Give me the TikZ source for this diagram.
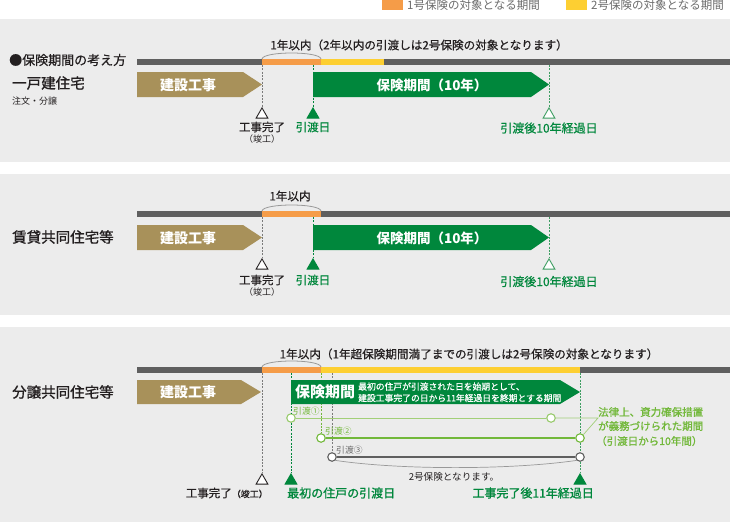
\documentclass[tikz,border=0pt]{standalone}
\usepackage{fontspec}
\setmainfont{Noto Sans CJK JP}
\newfontfamily\jpmed[FakeBold=1.2]{Noto Sans CJK JP}
\newfontfamily\jpsemi[FakeBold=0.6]{Noto Sans CJK JP}
\usetikzlibrary{shapes.geometric}
\newcommand\fsz[1]{\fontsize{#1}{#1}\selectfont}
\definecolor{panel}{HTML}{ECECEC}
\definecolor{barc}{HTML}{5F5F5F}
\definecolor{orng}{HTML}{F59C48}
\definecolor{yel}{HTML}{FDCF32}
\definecolor{tanc}{HTML}{A8915A}
\definecolor{grn}{HTML}{00873C}
\definecolor{dgrn}{HTML}{3E9E62}
\definecolor{lgrn}{HTML}{72B83A}
\definecolor{llgrn}{HTML}{A2CF78}
\definecolor{txt}{HTML}{231F20}
\definecolor{gtxt}{HTML}{6A6A6A}
\definecolor{dashg}{HTML}{7A7A7A}
\tikzset{
  lbl/.style={inner sep=0pt, text=txt},
  glbl/.style={inner sep=0pt, text=grn},
  arrowtext/.style={inner sep=0pt, text=white, font=\bfseries\fsz{14}},
  arcline/.style={draw=gray!80, line width=0.8pt},
  dashgray/.style={draw=dashg, line width=0.9pt, dash pattern=on 2pt off 1.3pt},
  dashgreen/.style={draw=grn, line width=0.9pt, dash pattern=on 2pt off 1.3pt},
  dashdgreen/.style={draw=dgrn, line width=0.9pt, dash pattern=on 2pt off 1.3pt},
  dashlgreen/.style={draw=lgrn, line width=0.9pt, dash pattern=on 2pt off 1.3pt},
  tri/.style={regular polygon, regular polygon sides=3, minimum size=13.6pt, inner sep=0pt, line width=0.9pt},
  triopen/.style={tri, draw=txt, fill=white},
  trifill/.style={tri, draw=grn, fill=grn},
  trigopen/.style={tri, draw=dgrn, fill=white},
  dot/.style={circle, minimum size=8.5pt, inner sep=0pt, fill=white, line width=1.1pt},
}
\begin{document}
\begin{tikzpicture}[x=1pt,y=-1pt]
\useasboundingbox (0,0) rectangle (730,522);
% panels
\fill[panel] (0,19) rectangle (730,162);
\fill[panel] (0,174) rectangle (730,315);
\fill[panel] (0,327) rectangle (730,522);
% legend
\fill[orng] (382,0) rectangle (403,10);
\node[inner sep=0pt, text=gtxt, font=\fsz{11.5}, anchor=west] (lg1) at (407,5) {1号保険の対象となる期間};
\fill[yel] (566,0) rectangle (587,10);
\node[inner sep=0pt, text=gtxt, font=\fsz{11.5}, anchor=west] (lg2) at (591,5) {2号保険の対象となる期間};

% ================= Panel 1
\node[lbl, font=\jpsemi\fsz{13}, anchor=west] (title) at (9,60) {●保険期間の考え方};
\node[lbl, font=\jpmed\fsz{14.5}, anchor=west] (h1) at (12,83) {一戸建住宅};
\node[lbl, font=\fsz{9}, anchor=west] (h1s) at (12,101) {注文・分譲};
\fill[barc] (137,59) rectangle (730,65);
\fill[orng] (262,59) rectangle (321,65);
\fill[yel] (321,59) rectangle (384,65);
\coordinate (p1a) at (262,59); \coordinate (p1b) at (321,59);
\draw[arcline] (p1a) .. controls (263,51) and (320,51) .. (p1b);
\node[lbl, font=\jpsemi\fsz{11.6}] (p1head) at (419,45) {1年以内（2年以内の引渡しは2号保険の対象となります）};
\node[triopen, anchor=corner 1] (p1t1) at (262,107) {};
\node[trifill, anchor=corner 1] (p1t2) at (313,107) {};
\node[trigopen, anchor=corner 1] (p1t3) at (549,107) {};
\coordinate (p1d1) at (262,65); \coordinate (p1d2) at (313,65); \coordinate (p1d3) at (549,65);
\draw[dashgray] (p1d1) -- (p1t1.corner 1);
\draw[dashgreen] (p1d2) -- (p1t2.corner 1);
\draw[dashdgreen] (p1d3) -- (p1t3.corner 1);
\fill[tanc] (137,72) -- (243,72) -- (262,84.5) -- (243,97) -- (137,97) -- cycle;
\node[arrowtext] (p1build) at (188,85) {建設工事};
\fill[grn] (313,72) -- (531,72) -- (549,84.5) -- (531,97) -- (313,97) -- cycle;
\node[arrowtext, font=\bfseries\fsz{13.5}] (p1ins) at (432,85) {保険期間（10年）};
\node[lbl, font=\jpsemi\fsz{11.5}] (p1l1) at (262,127) {工事完了};
\node[lbl, font=\fsz{9}] (p1l1s) at (262,139.5) {（竣工）};
\node[glbl, font=\jpsemi\fsz{11.5}] (p1l2) at (313,127) {引渡日};
\node[glbl, font=\jpsemi\fsz{12}] (p1l3) at (549,128) {引渡後10年経過日};

% ================= Panel 2
\node[lbl, font=\jpmed\fsz{14.5}, anchor=west] (h2) at (12,237) {賃貸共同住宅等};
\fill[barc] (137,211) rectangle (730,217);
\fill[orng] (262,211) rectangle (321,217);
\coordinate (p2a) at (262,211); \coordinate (p2b) at (321,211);
\draw[arcline] (p2a) .. controls (263,203) and (320,203) .. (p2b);
\node[lbl, font=\jpsemi\fsz{11.6}] (p2head) at (290,196) {1年以内};
\node[triopen, anchor=corner 1] (p2t1) at (262,258) {};
\node[trifill, anchor=corner 1] (p2t2) at (313,258) {};
\node[trigopen, anchor=corner 1] (p2t3) at (549,258) {};
\coordinate (p2d1) at (262,217); \coordinate (p2d2) at (313,217); \coordinate (p2d3) at (549,217);
\draw[dashgray] (p2d1) -- (p2t1.corner 1);
\draw[dashgreen] (p2d2) -- (p2t2.corner 1);
\draw[dashdgreen] (p2d3) -- (p2t3.corner 1);
\fill[tanc] (137,225) -- (243,225) -- (262,237.5) -- (243,250) -- (137,250) -- cycle;
\node[arrowtext] (p2build) at (188,238) {建設工事};
\fill[grn] (313,225) -- (531,225) -- (549,237.5) -- (531,250) -- (313,250) -- cycle;
\node[arrowtext, font=\bfseries\fsz{13.5}] (p2ins) at (432,238) {保険期間（10年）};
\node[lbl, font=\jpsemi\fsz{11.5}] (p2l1) at (262,280) {工事完了};
\node[lbl, font=\fsz{9}] (p2l1s) at (262,292.5) {（竣工）};
\node[glbl, font=\jpsemi\fsz{11.5}] (p2l2) at (313,280) {引渡日};
\node[glbl, font=\jpsemi\fsz{12}] (p2l3) at (549,281.5) {引渡後10年経過日};

% ================= Panel 3
\node[lbl, font=\jpmed\fsz{14.5}, anchor=west] (h3) at (12,392) {分譲共同住宅等};
\fill[barc] (137,367) rectangle (730,373);
\fill[orng] (262,367) rectangle (321,373);
\fill[yel] (321,367) rectangle (580,373);
\coordinate (p3a) at (262,367); \coordinate (p3b) at (321,367);
\draw[arcline] (p3a) .. controls (263,359) and (320,359) .. (p3b);
\node[lbl, font=\jpsemi\fsz{11.6}] (p3head) at (469,354) {1年以内（1年超保険期間満了までの引渡しは2号保険の対象となります）};
\node[triopen, anchor=corner 1] (p3t1) at (262,473) {};
\node[trifill, anchor=corner 1] (p3t2) at (291,473) {};
\node[trifill, anchor=corner 1] (p3t3) at (580,473) {};
% handover dots
\node[dot, draw=llgrn!80!lgrn] (r1a) at (291,418) {};
\node[dot, draw=llgrn!80!lgrn] (r1b) at (551,418) {};
\node[dot, draw=lgrn] (r2a) at (321,438) {};
\node[dot, draw=lgrn] (r2b) at (580,438) {};
\node[dot, draw=barc] (r3a) at (332,457) {};
\node[dot, draw=barc] (r3b) at (580,457) {};
\coordinate (p3d1) at (262,373); \coordinate (p3d2) at (291,373);
\coordinate (p3d3) at (321,373); \coordinate (p3d4) at (332,373);
\coordinate (p3d5) at (580,373);
\draw[dashgray] (p3d1) -- (p3t1.corner 1);
\draw[dashgreen] (p3d2) -- (r1a.north);
\draw[dashgreen] (r1a.south) -- (p3t2.corner 1);
\draw[dashlgreen] (p3d3) -- (r2a.north);
\draw[dashgray] (p3d4) -- (r3a.north);
\draw[dashdgreen] (p3d5) -- (r2b.north);
\draw[dashdgreen] (r2b.south) -- (r3b.north);
\draw[dashdgreen] (r3b.south) -- (p3t3.corner 1);
% handover lines
\draw[draw=llgrn, line width=1pt] (r1a) -- (r1b);
\draw[draw=lgrn, line width=1.5pt] (r2a) -- (r2b);
\draw[draw=barc, line width=1.2pt] (r3a) -- (r3b);
\node[inner sep=0pt, text=lgrn, font=\fsz{8.8}, anchor=west] (r1l) at (293,411) {引渡①};
\node[inner sep=0pt, text=lgrn, font=\fsz{8.8}, anchor=west] (r2l) at (325,431) {引渡②};
\node[inner sep=0pt, text=gtxt, font=\fsz{8.8}, anchor=west] (r3l) at (336,450) {引渡③};
% bracket to note
\coordinate (brk) at (598,418);
\draw[draw=llgrn, line width=0.7pt] (r1b.east) -- (brk) -- (r2b.north east);
\node[inner sep=0pt, text=lgrn, font=\jpmed\fsz{10.5}, anchor=west] (note1) at (598,412) {法律上、資力確保措置};
\node[inner sep=0pt, text=lgrn, font=\jpmed\fsz{10.5}, anchor=west] (note2) at (598,426) {が義務づけられた期間};
\node[inner sep=0pt, text=lgrn, font=\jpmed\fsz{10.5}, anchor=west] (note3) at (596,441) {（引渡日から10年間）};
% second insurance arc
\draw[draw=gray!80, line width=0.7pt] (r3a.south east) .. controls (400,470) and (510,470) .. (r3b.south west);
\node[lbl, font=\fsz{9.6}] (p3two) at (454,477) {2号保険となります。};
% arrows
\fill[tanc] (137,380) -- (241,380) -- (261,392) -- (241,404) -- (137,404) -- cycle;
\node[arrowtext] (p3build) at (188,392) {建設工事};
\fill[grn] (291,380) -- (560,380) -- (580,392) -- (560,404) -- (291,404) -- cycle;
\node[arrowtext, font=\bfseries\fsz{15}] (p3ins) at (325,392) {保険期間};
\node[inner sep=0pt, text=white, font=\jpsemi\fsz{8.8}, anchor=west] (p3ins1) at (358,386.5) {最初の住戸が引渡された日を始期として、};
\node[inner sep=0pt, text=white, font=\jpsemi\fsz{8.8}, anchor=west] (p3ins2) at (358,398) {建設工事完了の日から11年経過日を終期とする期間};
% bottom labels
\node[lbl, font=\jpsemi\fsz{11.5}, anchor=east] (p3l1) at (268,493) {工事完了{\fsz{9}（竣工）}};
\node[glbl, font=\jpmed\fsz{12}, anchor=west] (p3l2) at (287,493) {最初の住戸の引渡日};
\node[glbl, font=\jpmed\fsz{12}, anchor=east] (p3l3) at (594,493) {工事完了後11年経過日};
\end{tikzpicture}
\end{document}
